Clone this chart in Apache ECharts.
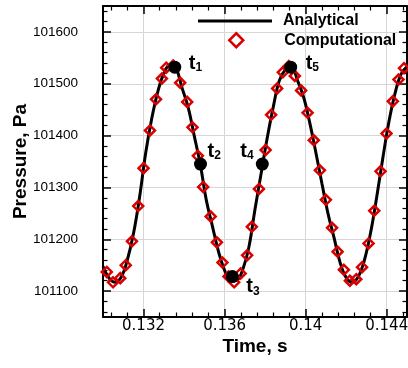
<!DOCTYPE html>
<html><head><meta charset="utf-8">
<script src="https://cdn.jsdelivr.net/npm/echarts@6/dist/echarts.min.js"></script>
<style>html,body{margin:0;padding:0;background:#fff}#c{width:408px;height:368px}</style>
</head><body><div id="c"></div>
<script>
// Analytical curve (time s, pressure Pa)
const lineTime = [0.13000,0.13030,0.13060,0.13090,0.13120,0.13150,0.13180,0.13210,0.13240,0.13270,0.13300,0.13330,0.13360,0.13390,0.13420,0.13450,0.13481,0.13510,0.13540,0.13570,0.13600,0.13630,0.13660,0.13690,0.13720,0.13750,0.13786,0.13810,0.13840,0.13870,0.13900,0.13930,0.13960,0.13990,0.14020,0.14050,0.14080,0.14110,0.14140,0.14170,0.14200,0.14230,0.14260,0.14290,0.14320,0.14350,0.14380,0.14410,0.14440,0.14470,0.14500];
const linePressure = [101148,101125,101117,101127,101160,101210,101280,101365,101432,101484,101520,101536,101530,101492,101455,101400,101342,101275,101225,101176,101140,101120,101121,101142,101185,101258,101340,101395,101455,101506,101527,101532,101506,101474,101425,101368,101308,101250,101203,101155,101126,101117,101128,101160,101212,101280,101355,101425,101480,101518,101533];
// Computational points
const compTime = [0.130186,0.130496,0.130851,0.131122,0.131428,0.131739,0.132000,0.132316,0.132616,0.132907,0.133119,0.133464,0.133809,0.134154,0.134416,0.134682,0.134943,0.135313,0.135619,0.135895,0.136191,0.136472,0.136792,0.137113,0.137344,0.137694,0.138025,0.138296,0.138592,0.138873,0.139169,0.139464,0.139775,0.140095,0.140401,0.140702,0.140998,0.141303,0.141575,0.141885,0.142181,0.142497,0.142782,0.143103,0.143384,0.143694,0.143990,0.144301,0.144582,0.144853];
const compPressure = [101137,101117,101125,101150,101196,101264,101337,101410,101470,101510,101531,101535,101502,101465,101416,101361,101301,101244,101194,101155,101128,101117,101134,101169,101224,101297,101372,101440,101491,101522,101534,101515,101487,101444,101391,101333,101276,101222,101176,101141,101120,101123,101146,101192,101255,101331,101404,101466,101508,101530];
// Marked instants t1..t5
const markTime = [0.13354,0.13481,0.13638,0.13786,0.13926];
const markPressure = [101532,101345,101128,101345,101532];
const markNames = ['1','2','3','4','5'];
// Tick labels
const xTicks = [0.132,0.136,0.14,0.144];
const yTicks = [101100,101200,101300,101400,101500,101600];
const seriesNames = ['Analytical','Computational'];

const xStep = +(xTicks[1]-xTicks[0]).toFixed(6);
const yStep = yTicks[1]-yTicks[0];
const X_MIN = 0.130, X_MAX = 0.145, Y_MIN = 101050, Y_MAX = 101650;
const RED = '#d80000';
const FONT = 'Liberation Sans, Arial, sans-serif';

function axisCommon(main){
  return {
    type:'value',
    axisLine:{show:true,onZero:false,lineStyle:{color:'#000',width:2}},
    axisTick:{show:true,inside:true,length:8,lineStyle:{color:'#000',width:1.5}},
    minorTick:{show:true,splitNumber:5,length:4.5,lineStyle:{color:'#000',width:1.2}},
    splitLine:{show:main,lineStyle:{color:'#d6d6d6',width:1}},
    nameMoveOverlap:false
  };
}
function xAxis(pos, main){
  return Object.assign(axisCommon(main), {
    position:pos, min:X_MIN, max:X_MAX, minInterval:xStep, maxInterval:xStep,
    name: main ? 'Time, s' : '', nameLocation:'middle', nameGap:20,
    nameTextStyle:{fontFamily:FONT,fontWeight:'bold',fontSize:19,color:'#000'},
    axisLabel:{show:main, margin:2, color:'#000', fontSize:15, fontFamily:'DejaVu Sans, sans-serif',
      showMinLabel:false, showMaxLabel:false,
      formatter:v => xTicks.some(t => Math.abs(t-v) < 1e-9) ? String(+v.toFixed(6)) : ''}
  });
}
function yAxis(pos, main){
  return Object.assign(axisCommon(main), {
    position:pos, min:Y_MIN, max:Y_MAX, minInterval:yStep, maxInterval:yStep,
    name: main ? 'Pressure, Pa' : '', nameLocation:'middle', nameGap:73, nameRotate:90,
    nameTextStyle:{fontFamily:FONT,fontWeight:'bold',fontSize:19,color:'#000'},
    axisLabel:{show:main, margin:25, color:'#000', fontSize:13.5, fontFamily:FONT,
      showMinLabel:false, showMaxLabel:false,
      formatter:v => yTicks.indexOf(Math.round(v)) >= 0 && Math.abs(v-Math.round(v))<1e-6 ? String(Math.round(v)) : ''}
  });
}

const labelOffsets = [[14,-4],[7,-13],[14,10],[-22,-13],[15,-4]];

const chart = echarts.init(document.getElementById('c'), null, {renderer:'canvas'});
chart.setOption({
  animation:false,
  backgroundColor:'#fff',
  grid:{left:103,right:1,top:6,bottom:51,containLabel:false,outerBoundsMode:'none'},
  xAxis:[xAxis('bottom',true), xAxis('top',false)],
  yAxis:[yAxis('left',true), yAxis('right',false)],
  legend:[
    {data:[seriesNames[0]], left:193, top:8, icon:'rect', itemWidth:74, itemHeight:3,
     itemStyle:{color:'#000'}, selectedMode:false,
     textStyle:{fontSize:16,fontWeight:'bold',color:'#000',fontFamily:FONT,padding:[0,0,0,6]}},
    {data:[seriesNames[1]], left:223, top:27, icon:'diamond', itemWidth:14, itemHeight:14,
     itemStyle:{color:'rgba(0,0,0,0)',borderColor:RED,borderWidth:2.5,opacity:1}, selectedMode:false,
     textStyle:{fontSize:16,fontWeight:'bold',color:'#000',fontFamily:FONT,padding:[0,0,0,36]}}
  ],
  series:[
    {type:'line', name:seriesNames[0], data:lineTime.map((t,i)=>[t,linePressure[i]]),
     smooth:0.4, symbol:'none', lineStyle:{color:'#000',width:3}, z:2},
    {type:'scatter', name:seriesNames[1], data:compTime.map((t,i)=>[t,compPressure[i]]),
     symbol:'diamond', symbolSize:10, itemStyle:{color:'rgba(0,0,0,0)',borderColor:RED,borderWidth:2.5,opacity:1}, z:3},
    {type:'scatter', name:'marks', z:4, symbol:'circle', symbolSize:13, itemStyle:{color:'#000',opacity:1},
     data:markTime.map((t,i)=>({value:[t,markPressure[i]], label:{offset:labelOffsets[i]}})),
     label:{show:true, position:'inside', align:'left', verticalAlign:'middle',
       formatter:p => '{t|t}{s|' + markNames[p.dataIndex] + '}',
       rich:{
         t:{fontSize:20,fontWeight:'bold',color:'#000',fontFamily:FONT,lineHeight:22,verticalAlign:'middle'},
         s:{fontSize:12,fontWeight:'bold',color:'#000',fontFamily:FONT,lineHeight:14,verticalAlign:'bottom'}
       }}}
  ]
});
</script></body></html>
